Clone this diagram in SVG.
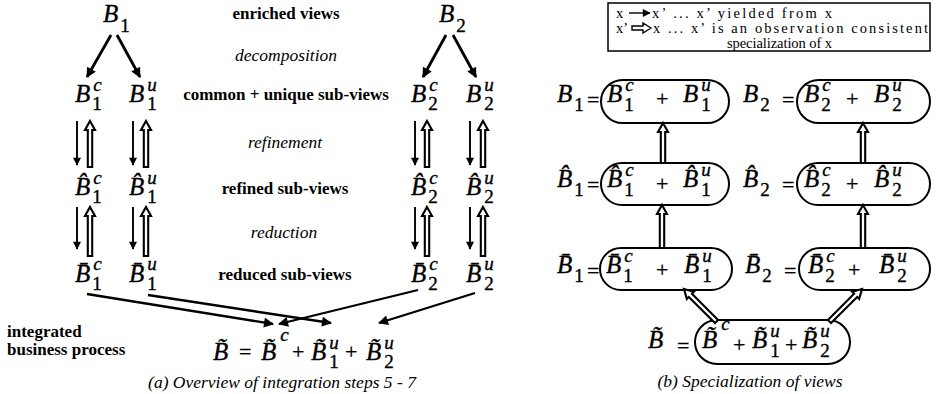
<svg xmlns="http://www.w3.org/2000/svg" width="937" height="394" viewBox="0 0 937 394">
<defs>
<style>
text{font-family:"Liberation Serif","Times New Roman",serif;fill:#000}
.v{font-style:italic;font-size:25px;stroke:#000;stroke-width:0.35}
.d{font-style:normal;font-size:19px}
.p{font-style:italic;font-size:19px}
.o{font-style:normal;font-size:22px;stroke:#000;stroke-width:0.35}
.lb{font-weight:bold;font-size:17px;text-anchor:middle}
.li{font-style:italic;font-size:17.5px;text-anchor:middle}
.lg{font-size:14.5px}
.th{stroke:#000;stroke-width:1.9;fill:none}
.tk{stroke:#000;stroke-width:2.8;fill:none}
.ho{stroke:#000;stroke-width:2.1;fill:#fff;stroke-linejoin:miter}
.ov{stroke:#000;stroke-width:2;fill:#fff}
</style>
<marker id="ah" viewBox="0 0 10 10" refX="9" refY="5" markerWidth="9" markerHeight="8" markerUnits="userSpaceOnUse" orient="auto"><path d="M0,0 L10,5 L0,10 z" fill="#000"/></marker>
<marker id="ahb" viewBox="0 0 10 10" refX="9" refY="5" markerWidth="12" markerHeight="10" markerUnits="userSpaceOnUse" orient="auto"><path d="M0,0 L10,5 L0,10 z" fill="#000"/></marker>
</defs>

<!-- ============ Panel (a) ============ -->
<g id="labels-a">
<text class="lb" x="286" y="19">enriched views</text>
<text class="li" x="286" y="61">decomposition</text>
<text class="lb" x="286" y="100">common + unique sub-views</text>
<text class="li" x="285" y="148">refinement</text>
<text class="lb" x="285" y="194">refined sub-views</text>
<text class="li" x="284" y="238">reduction</text>
<text class="lb" x="285" y="280">reduced sub-views</text>
<text class="lb" x="7" y="337" style="text-anchor:start">integrated</text>
<text class="lb" x="7" y="355" style="text-anchor:start">business process</text>
<text class="li" x="282" y="388">(a) Overview of integration steps 5 - 7</text>
</g>

<g id="B1"><text class="v" x="103" y="22">B<tspan class="d" dx="2" dy="10">1</tspan></text></g>
<g id="B2"><text class="v" x="439" y="22">B<tspan class="d" dx="2" dy="10">2</tspan></text></g>

<g id="B1c"><text class="v" x="75" y="102">B<tspan class="p" dx="3" dy="-11">c</tspan><tspan class="d" dx="-9.4" dy="19">1</tspan></text></g>
<g id="B1u"><text class="v" x="129" y="102">B<tspan class="p" dx="3" dy="-11">u</tspan><tspan class="d" dx="-9.5" dy="19">1</tspan></text></g>
<g id="B2c"><text class="v" x="411" y="102">B<tspan class="p" dx="3" dy="-11">c</tspan><tspan class="d" dx="-9.4" dy="19">2</tspan></text></g>
<g id="B2u"><text class="v" x="466" y="102">B<tspan class="p" dx="3" dy="-11">u</tspan><tspan class="d" dx="-9.5" dy="19">2</tspan></text></g>

<g id="B1c-hat"><text class="v" x="75" y="195">B&#x302;<tspan class="p" dx="3" dy="-11">c</tspan><tspan class="d" dx="-9.4" dy="19">1</tspan></text></g>
<g id="B1u-hat"><text class="v" x="129" y="195">B&#x302;<tspan class="p" dx="3" dy="-11">u</tspan><tspan class="d" dx="-9.5" dy="19">1</tspan></text></g>
<g id="B2c-hat"><text class="v" x="411" y="195">B&#x302;<tspan class="p" dx="3" dy="-11">c</tspan><tspan class="d" dx="-9.4" dy="19">2</tspan></text></g>
<g id="B2u-hat"><text class="v" x="466" y="195">B&#x302;<tspan class="p" dx="3" dy="-11">u</tspan><tspan class="d" dx="-9.5" dy="19">2</tspan></text></g>

<g id="B1c-bar"><text class="v" x="75" y="282">B&#x304;<tspan class="p" dx="3" dy="-12">c</tspan><tspan class="d" dx="-9.4" dy="20">1</tspan></text></g>
<g id="B1u-bar"><text class="v" x="129" y="282">B&#x304;<tspan class="p" dx="3" dy="-12">u</tspan><tspan class="d" dx="-9.5" dy="20">1</tspan></text></g>
<g id="B2c-bar"><text class="v" x="411" y="282">B&#x304;<tspan class="p" dx="3" dy="-12">c</tspan><tspan class="d" dx="-9.4" dy="20">2</tspan></text></g>
<g id="B2u-bar"><text class="v" x="466" y="282">B&#x304;<tspan class="p" dx="3" dy="-12">u</tspan><tspan class="d" dx="-9.5" dy="20">2</tspan></text></g>

<g id="Btilde-formula">
<text class="v" x="213" y="360">B&#x303;</text>
<text class="o" x="239" y="359">=</text>
<text class="v" x="261" y="360">B&#x303;<tspan class="p" dx="4" dy="-19">c</tspan></text>
<text class="o" x="292" y="359">+</text>
<text class="v" x="311" y="360">B&#x303;<tspan class="p" dx="3" dy="-11">u</tspan><tspan class="d" dx="-9.5" dy="19">1</tspan></text>
<text class="o" x="345" y="359">+</text>
<text class="v" x="366" y="360">B&#x303;<tspan class="p" dx="3" dy="-11">u</tspan><tspan class="d" dx="-9.5" dy="19">2</tspan></text>
</g>

<g id="connectors-a">
<line class="tk" x1="111" y1="35" x2="87" y2="77" marker-end="url(#ahb)"/>
<line class="tk" x1="117" y1="35" x2="140" y2="77" marker-end="url(#ahb)"/>
<line class="tk" x1="446" y1="35" x2="423" y2="77" marker-end="url(#ahb)"/>
<line class="tk" x1="453" y1="35" x2="476" y2="77" marker-end="url(#ahb)"/>

<line class="th" x1="77" y1="121" x2="77" y2="165" marker-end="url(#ah)"/>
<line class="th" x1="133" y1="121" x2="133" y2="165" marker-end="url(#ah)"/>
<line class="th" x1="415" y1="121" x2="415" y2="165" marker-end="url(#ah)"/>
<line class="th" x1="470" y1="121" x2="470" y2="165" marker-end="url(#ah)"/>
<line class="th" x1="77" y1="207" x2="77" y2="249" marker-end="url(#ah)"/>
<line class="th" x1="133" y1="207" x2="133" y2="249" marker-end="url(#ah)"/>
<line class="th" x1="415" y1="207" x2="415" y2="249" marker-end="url(#ah)"/>
<line class="th" x1="470" y1="207" x2="470" y2="249" marker-end="url(#ah)"/>

<path class="ho" d="M90,121 L95,130 L92.2,130 L92.2,167 L87.8,167 L87.8,130 L85,130 Z"/>
<path class="ho" d="M146,121 L151,130 L148.2,130 L148.2,167 L143.8,167 L143.8,130 L141,130 Z"/>
<path class="ho" d="M427,121 L432,130 L429.2,130 L429.2,167 L424.8,167 L424.8,130 L422,130 Z"/>
<path class="ho" d="M483,121 L488,130 L485.2,130 L485.2,167 L480.8,167 L480.8,130 L478,130 Z"/>
<path class="ho" d="M90,207 L95,216 L92.2,216 L92.2,256 L87.8,256 L87.8,216 L85,216 Z"/>
<path class="ho" d="M146,207 L151,216 L148.2,216 L148.2,256 L143.8,256 L143.8,216 L141,216 Z"/>
<path class="ho" d="M427,207 L432,216 L429.2,216 L429.2,256 L424.8,256 L424.8,216 L422,216 Z"/>
<path class="ho" d="M483,207 L488,216 L485.2,216 L485.2,256 L480.8,256 L480.8,216 L478,216 Z"/>

<line class="th" style="stroke-width:2.3" x1="87" y1="294" x2="273" y2="324" marker-end="url(#ahb)"/>
<line class="th" style="stroke-width:2.3" x1="148" y1="295" x2="331" y2="323" marker-end="url(#ahb)"/>
<line class="th" style="stroke-width:2.3" x1="418" y1="290" x2="279" y2="324" marker-end="url(#ahb)"/>
<line class="th" style="stroke-width:2.3" x1="475" y1="293" x2="379" y2="323" marker-end="url(#ahb)"/>
</g>

<!-- ============ Panel (b) ============ -->
<g id="legend">
<rect x="608" y="3" width="322" height="48" fill="#fff" stroke="#000" stroke-width="1.5"/>
<text class="lg" x="616" y="17.5">x</text>
<line class="th" style="stroke-width:1.4" x1="629" y1="13" x2="650" y2="13" marker-end="url(#ah)"/>
<text class="lg" x="652" y="17.5" textLength="180">x’ ... x’ yielded from x</text>
<text class="lg" x="616" y="32.5">x’</text>
<path class="ho" style="stroke-width:1.4" d="M651,28 L643,23 L643,26 L632,26 L632,30 L643,30 L643,33 Z"/>
<text class="lg" x="653" y="32.5" textLength="275">x  ... x’ is an observation consistent</text>
<text class="lg" x="727" y="47.5" textLength="105">specialization of x</text>
</g>

<g id="row1-left">
<text class="v" x="557" y="102">B<tspan class="d" dx="2" dy="9">1</tspan></text>
<text class="o" x="587" y="107">=</text>
<rect class="ov" x="601" y="80" width="128" height="43" rx="21.5"/>
<text class="v" x="607" y="102">B<tspan class="p" dx="3" dy="-11">c</tspan><tspan class="d" dx="-9.4" dy="20">1</tspan></text>
<text class="o" x="656" y="106">+</text>
<text class="v" x="683" y="102">B<tspan class="p" dx="3" dy="-11">u</tspan><tspan class="d" dx="-9.5" dy="20">1</tspan></text>
</g>
<g id="row1-right">
<text class="v" x="743" y="102">B<tspan class="d" dx="2" dy="9">2</tspan></text>
<text class="o" x="782" y="107">=</text>
<rect class="ov" x="797" y="80" width="133" height="43" rx="21.5"/>
<text class="v" x="804" y="102">B<tspan class="p" dx="3" dy="-11">c</tspan><tspan class="d" dx="-9.4" dy="20">2</tspan></text>
<text class="o" x="846" y="106">+</text>
<text class="v" x="874" y="102">B<tspan class="p" dx="3" dy="-11">u</tspan><tspan class="d" dx="-9.5" dy="20">2</tspan></text>
</g>

<g id="row2-left">
<text class="v" x="557" y="187">B&#x302;<tspan class="d" dx="2" dy="9">1</tspan></text>
<text class="o" x="587" y="192">=</text>
<rect class="ov" x="601" y="163" width="128" height="42" rx="21"/>
<text class="v" x="607" y="187">B&#x302;<tspan class="p" dx="3" dy="-11">c</tspan><tspan class="d" dx="-9.4" dy="20">1</tspan></text>
<text class="o" x="656" y="191">+</text>
<text class="v" x="683" y="187">B&#x302;<tspan class="p" dx="3" dy="-11">u</tspan><tspan class="d" dx="-9.5" dy="20">1</tspan></text>
</g>
<g id="row2-right">
<text class="v" x="743" y="187">B&#x302;<tspan class="d" dx="2" dy="9">2</tspan></text>
<text class="o" x="782" y="192">=</text>
<rect class="ov" x="797" y="163" width="133" height="42" rx="21"/>
<text class="v" x="804" y="187">B&#x302;<tspan class="p" dx="3" dy="-11">c</tspan><tspan class="d" dx="-9.4" dy="20">2</tspan></text>
<text class="o" x="846" y="191">+</text>
<text class="v" x="874" y="187">B&#x302;<tspan class="p" dx="3" dy="-11">u</tspan><tspan class="d" dx="-9.5" dy="20">2</tspan></text>
</g>

<g id="row3-left">
<text class="v" x="557" y="273">B&#x304;<tspan class="d" dx="2" dy="9">1</tspan></text>
<text class="o" x="587" y="278">=</text>
<rect class="ov" x="600" y="248" width="132" height="42" rx="21"/>
<text class="v" x="606" y="273">B&#x304;<tspan class="p" dx="3" dy="-11">c</tspan><tspan class="d" dx="-9.4" dy="20">1</tspan></text>
<text class="o" x="656" y="277">+</text>
<text class="v" x="684" y="273">B&#x304;<tspan class="p" dx="3" dy="-11">u</tspan><tspan class="d" dx="-9.5" dy="20">1</tspan></text>
</g>
<g id="row3-right">
<text class="v" x="745" y="273">B&#x304;<tspan class="d" dx="2" dy="9">2</tspan></text>
<text class="o" x="784" y="278">=</text>
<rect class="ov" x="799" y="248" width="131" height="42" rx="21"/>
<text class="v" x="808" y="273">B&#x304;<tspan class="p" dx="3" dy="-11">c</tspan><tspan class="d" dx="-9.4" dy="20">2</tspan></text>
<text class="o" x="848" y="277">+</text>
<text class="v" x="879" y="273">B&#x304;<tspan class="p" dx="3" dy="-11">u</tspan><tspan class="d" dx="-9.5" dy="20">2</tspan></text>
</g>

<g id="row4">
<text class="v" x="648" y="348">B&#x303;</text>
<text class="o" x="677" y="353">=</text>
<rect class="ov" x="695" y="320" width="155" height="44" rx="22"/>
<text class="v" x="702" y="348">B&#x303;<tspan class="p" dx="4" dy="-18">c</tspan></text>
<text class="o" x="733" y="352">+</text>
<text class="v" x="752" y="348">B&#x303;<tspan class="p" dx="3" dy="-11">u</tspan><tspan class="d" dx="-9.5" dy="20">1</tspan></text>
<text class="o" x="785" y="352">+</text>
<text class="v" x="802" y="348">B&#x303;<tspan class="p" dx="3" dy="-11">u</tspan><tspan class="d" dx="-9.5" dy="20">2</tspan></text>
</g>

<g id="connectors-b">
<path class="ho" d="M663,123 L668,132 L665.2,132 L665.2,163 L660.8,163 L660.8,132 L658,132 Z"/>
<path class="ho" d="M863,123 L868,132 L865.2,132 L865.2,163 L860.8,163 L860.8,132 L858,132 Z"/>
<path class="ho" d="M662,205 L667,214 L664.2,214 L664.2,248 L659.8,248 L659.8,214 L657,214 Z"/>
<path class="ho" d="M863,205 L868,214 L865.2,214 L865.2,248 L860.8,248 L860.8,214 L858,214 Z"/>
<path class="ho" transform="translate(684,289) rotate(-45)" d="M0,0 L5,9 L2.2,9 L2.2,46 L-2.2,46 L-2.2,9 L-5,9 Z"/>
<path class="ho" transform="translate(862,289) rotate(45)" d="M0,0 L5,9 L2.2,9 L2.2,46 L-2.2,46 L-2.2,9 L-5,9 Z"/>
</g>
<text class="li" x="750" y="387">(b) Specialization of views</text>
</svg>
